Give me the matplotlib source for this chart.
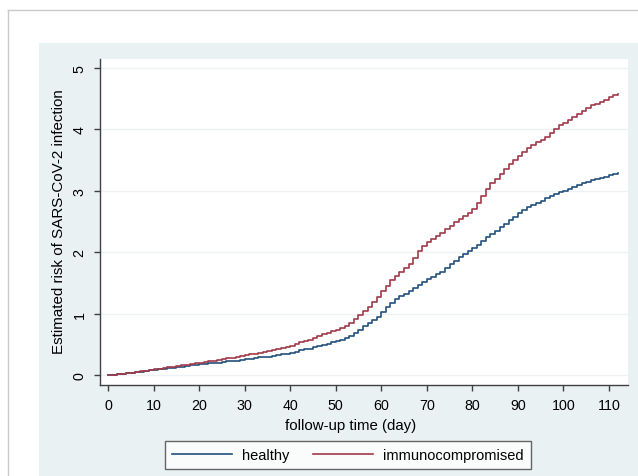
import matplotlib
matplotlib.use("Agg")
import matplotlib.pyplot as plt
from matplotlib.lines import Line2D
from matplotlib.patches import Rectangle
import numpy as np

plt.rcParams['font.family'] = ['Liberation Sans', 'DejaVu Sans']

# daily step values (estimated risk, %)
days = np.arange(0, 113)
healthy = [
    0, 0.005, 0.01, 0.02, 0.03, 0.04, 0.05, 0.055, 0.065, 0.075,
    0.085, 0.095, 0.10, 0.11, 0.12, 0.13, 0.135, 0.145, 0.155, 0.165, 0.175,
    0.18, 0.19, 0.195, 0.20, 0.21, 0.22, 0.23, 0.235, 0.245, 0.255, 0.265,
    0.275, 0.285, 0.29, 0.30, 0.31, 0.32, 0.335,
    0.35, 0.36, 0.38, 0.40, 0.42, 0.43, 0.45, 0.47,
    0.49, 0.51, 0.53, 0.55, 0.57, 0.60,
    0.64, 0.69, 0.74, 0.79, 0.84, 0.89, 0.95,
    1.02, 1.10, 1.18, 1.24, 1.28, 1.32, 1.37,
    1.42, 1.47, 1.51, 1.56, 1.60, 1.64, 1.68,
    1.74, 1.80, 1.86, 1.92,
    1.97, 2.02, 2.07, 2.12, 2.18, 2.24, 2.30,
    2.35, 2.41, 2.46, 2.52, 2.58, 2.64, 2.69,
    2.73, 2.77, 2.80, 2.84, 2.88, 2.92,
    2.95, 2.98, 3.00, 3.03, 3.06, 3.09, 3.12,
    3.15, 3.17, 3.19, 3.21, 3.23, 3.25, 3.27, 3.29,
]
immuno = [
    0, 0.005, 0.01, 0.02, 0.03, 0.04, 0.05, 0.06, 0.07, 0.085,
    0.095, 0.105, 0.115, 0.125, 0.135, 0.145, 0.155, 0.165, 0.18, 0.19, 0.20,
    0.215, 0.225, 0.235, 0.245, 0.26, 0.27, 0.28, 0.295, 0.305, 0.32, 0.335,
    0.35, 0.36, 0.375, 0.39, 0.40, 0.42, 0.44,
    0.46, 0.48, 0.50, 0.53, 0.55, 0.57, 0.60, 0.63,
    0.66, 0.69, 0.71, 0.73, 0.76, 0.80,
    0.85, 0.91, 0.97, 1.04, 1.11, 1.19, 1.27,
    1.36, 1.45, 1.54, 1.62, 1.68, 1.74, 1.80,
    1.90, 2.02, 2.10, 2.16, 2.22, 2.27, 2.32,
    2.37, 2.43, 2.49, 2.54, 2.59, 2.64, 2.70,
    2.80, 2.92, 3.03, 3.12, 3.20, 3.28, 3.36,
    3.43, 3.50, 3.57, 3.64, 3.70, 3.74, 3.79,
    3.83, 3.88, 3.94, 4.01, 4.07, 4.11, 4.15,
    4.20, 4.25, 4.30, 4.35, 4.39,
    4.42, 4.45, 4.48, 4.52, 4.56, 4.58,
]
x_ticks = list(range(0, 111, 10))
y_ticks = [0, 1, 2, 3, 4, 5]

W, H = 638, 477
fig = plt.figure(figsize=(W / 100, H / 100), dpi=100)
fig.patch.set_facecolor('white')

# outer frame (left and top edges only visible)
fig.add_artist(Line2D([8 / W, 8 / W], [0, 1 - 11 / H], color='#c8c8c8', lw=1))
fig.add_artist(Line2D([8 / W, 1], [1 - 11 / H, 1 - 11 / H], color='#c8c8c8', lw=1))
# Stata graph region
fig.add_artist(Rectangle((39 / W, 0), 1 - 39 / W, 1 - 44 / H,
                         transform=fig.transFigure, facecolor='#eaf1f3',
                         edgecolor='none', zorder=0))

ax = fig.add_axes([100 / W, 1 - 386 / H, 528 / W, 326 / H])
ax.set_facecolor('white')

ax.step(days, healthy, where='post', color='#22507e', lw=1.2, label='healthy')
ax.step(days, immuno, where='post', color='#a03a48', lw=1.2, label='immunocompromised')

ax.set_xlim(-1.76, 114.2)
ax.set_ylim(-0.163, 5.147)
ax.set_xticks(x_ticks)
ax.set_yticks(y_ticks)
ax.grid(axis='y', color='#eef2f4', lw=1)
ax.set_axisbelow(True)

for s in ['top', 'right']:
    ax.spines[s].set_visible(False)
for s in ['left', 'bottom']:
    ax.spines[s].set_color('#404040')
    ax.spines[s].set_linewidth(1)

ax.tick_params(axis='both', direction='out', length=4.3, width=1,
               color='#404040', labelsize=10.3, labelcolor='black')
ax.tick_params(axis='x', pad=5)
ax.tick_params(axis='y', pad=5.5)
for lab in ax.get_yticklabels():
    lab.set_rotation(90)
    lab.set_va('center')

ax.set_xlabel('follow-up time (day)', fontsize=10.8)
ax.xaxis.set_label_coords((351 - 100) / 528, -33 / 326)
ax.set_ylabel('Estimated risk of SARS-CoV-2 infection', fontsize=10.9)
ax.yaxis.set_label_coords(-(100 - 66) / 528, (386 - 221.5) / 326)

leg = fig.legend(loc='center', bbox_to_anchor=(348 / W, 1 - 456 / H),
                 ncol=2, fontsize=10.5, handlelength=4.1, handletextpad=0.7,
                 columnspacing=1.6, borderpad=0.5, fancybox=False,
                 frameon=True)
leg.get_frame().set_edgecolor('#404040')
leg.get_frame().set_facecolor('white')
leg.get_frame().set_linewidth(1)

fig.savefig('out.png', dpi=100)
